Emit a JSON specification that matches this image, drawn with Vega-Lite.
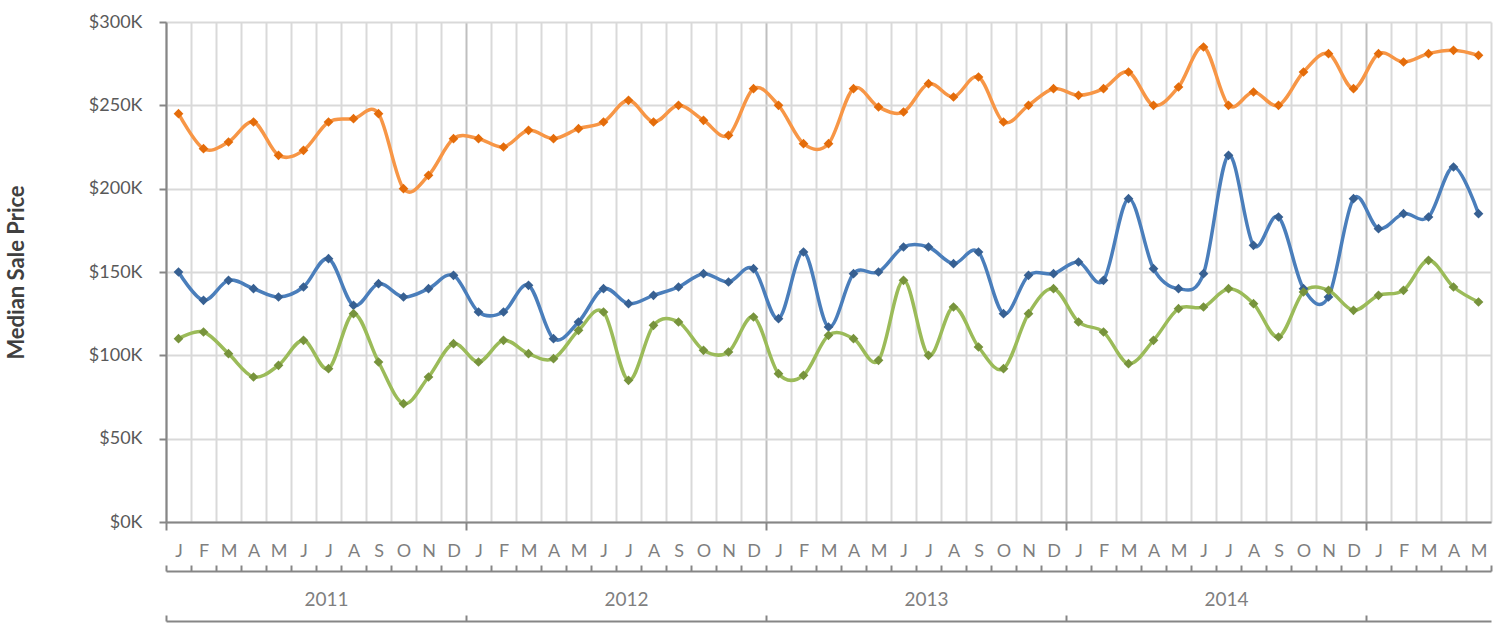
{
  "$schema": "https://vega.github.io/schema/vega-lite/v6.json",
  "width": 1325,
  "height": 500,
  "autosize": {"type": "none"},
  "padding": {"left": 166, "top": 22, "right": 14, "bottom": 101},
  "config": {
    "font": "Lato",
    "view": {"stroke": null},
    "axis": {"labelFont": "Lato", "titleFont": "Lato"}
  },
  "data": {
    "values": [
      {"i": 0, "Series 1": 245, "Series 2": 150, "Series 3": 110},
      {"i": 1, "Series 1": 224, "Series 2": 133, "Series 3": 114},
      {"i": 2, "Series 1": 228, "Series 2": 145, "Series 3": 101},
      {"i": 3, "Series 1": 240, "Series 2": 140, "Series 3": 87},
      {"i": 4, "Series 1": 220, "Series 2": 135, "Series 3": 94},
      {"i": 5, "Series 1": 223, "Series 2": 141, "Series 3": 109},
      {"i": 6, "Series 1": 240, "Series 2": 158, "Series 3": 92},
      {"i": 7, "Series 1": 242, "Series 2": 130, "Series 3": 125},
      {"i": 8, "Series 1": 245, "Series 2": 143, "Series 3": 96},
      {"i": 9, "Series 1": 200, "Series 2": 135, "Series 3": 71},
      {"i": 10, "Series 1": 208, "Series 2": 140, "Series 3": 87},
      {"i": 11, "Series 1": 230, "Series 2": 148, "Series 3": 107},
      {"i": 12, "Series 1": 230, "Series 2": 126, "Series 3": 96},
      {"i": 13, "Series 1": 225, "Series 2": 126, "Series 3": 109},
      {"i": 14, "Series 1": 235, "Series 2": 142, "Series 3": 101},
      {"i": 15, "Series 1": 230, "Series 2": 110, "Series 3": 98},
      {"i": 16, "Series 1": 236, "Series 2": 120, "Series 3": 115},
      {"i": 17, "Series 1": 240, "Series 2": 140, "Series 3": 126},
      {"i": 18, "Series 1": 253, "Series 2": 131, "Series 3": 85},
      {"i": 19, "Series 1": 240, "Series 2": 136, "Series 3": 118},
      {"i": 20, "Series 1": 250, "Series 2": 141, "Series 3": 120},
      {"i": 21, "Series 1": 241, "Series 2": 149, "Series 3": 103},
      {"i": 22, "Series 1": 232, "Series 2": 144, "Series 3": 102},
      {"i": 23, "Series 1": 260, "Series 2": 152, "Series 3": 123},
      {"i": 24, "Series 1": 250, "Series 2": 122, "Series 3": 89},
      {"i": 25, "Series 1": 227, "Series 2": 162, "Series 3": 88},
      {"i": 26, "Series 1": 227, "Series 2": 117, "Series 3": 112},
      {"i": 27, "Series 1": 260, "Series 2": 149, "Series 3": 110},
      {"i": 28, "Series 1": 249, "Series 2": 150, "Series 3": 97},
      {"i": 29, "Series 1": 246, "Series 2": 165, "Series 3": 145},
      {"i": 30, "Series 1": 263, "Series 2": 165, "Series 3": 100},
      {"i": 31, "Series 1": 255, "Series 2": 155, "Series 3": 129},
      {"i": 32, "Series 1": 267, "Series 2": 162, "Series 3": 105},
      {"i": 33, "Series 1": 240, "Series 2": 125, "Series 3": 92},
      {"i": 34, "Series 1": 250, "Series 2": 148, "Series 3": 125},
      {"i": 35, "Series 1": 260, "Series 2": 149, "Series 3": 140},
      {"i": 36, "Series 1": 256, "Series 2": 156, "Series 3": 120},
      {"i": 37, "Series 1": 260, "Series 2": 145, "Series 3": 114},
      {"i": 38, "Series 1": 270, "Series 2": 194, "Series 3": 95},
      {"i": 39, "Series 1": 250, "Series 2": 152, "Series 3": 109},
      {"i": 40, "Series 1": 261, "Series 2": 140, "Series 3": 128},
      {"i": 41, "Series 1": 285, "Series 2": 149, "Series 3": 129},
      {"i": 42, "Series 1": 250, "Series 2": 220, "Series 3": 140},
      {"i": 43, "Series 1": 258, "Series 2": 166, "Series 3": 131},
      {"i": 44, "Series 1": 250, "Series 2": 183, "Series 3": 111},
      {"i": 45, "Series 1": 270, "Series 2": 140, "Series 3": 138},
      {"i": 46, "Series 1": 281, "Series 2": 135, "Series 3": 139},
      {"i": 47, "Series 1": 260, "Series 2": 194, "Series 3": 127},
      {"i": 48, "Series 1": 281, "Series 2": 176, "Series 3": 136},
      {"i": 49, "Series 1": 276, "Series 2": 185, "Series 3": 139},
      {"i": 50, "Series 1": 281, "Series 2": 183, "Series 3": 157},
      {"i": 51, "Series 1": 283, "Series 2": 213, "Series 3": 141},
      {"i": 52, "Series 1": 280, "Series 2": 185, "Series 3": 132}
    ]
  },
  "transform": [{"fold": ["Series 1", "Series 2", "Series 3"], "as": ["series", "price"]}],
  "resolve": {"axis": {"x": "independent"}},
  "layer": [
    {
      "mark": {"type": "line", "interpolate": "cardinal", "strokeWidth": 3.5},
      "encoding": {
        "x": {
          "field": "i", "type": "quantitative",
          "scale": {"domain": [-0.5, 52.5], "nice": false, "zero": false},
          "axis": {
            "orient": "bottom", "title": null, "labels": false,
            "values": [-0.5,0.5,1.5,2.5,3.5,4.5,5.5,6.5,7.5,8.5,9.5,10.5,11.5,12.5,13.5,14.5,15.5,16.5,17.5,18.5,19.5,20.5,21.5,22.5,23.5,24.5,25.5,26.5,27.5,28.5,29.5,30.5,31.5,32.5,33.5,34.5,35.5,36.5,37.5,38.5,39.5,40.5,41.5,42.5,43.5,44.5,45.5,46.5,47.5,48.5,49.5,50.5,51.5,52.5],
            "grid": true, "gridWidth": 2,
            "gridColor": {"condition": {"test": "(datum.value + 0.5) % 12 == 0", "value": "#bfbfbf"}, "value": "#d9d9d9"},
            "ticks": true, "tickSize": 8, "tickWidth": 2, "tickColor": "#868686",
            "tickOpacity": {"condition": {"test": "(datum.value + 0.5) % 12 == 0 && datum.value < 52", "value": 1}, "value": 0},
            "domain": true, "domainColor": "#868686", "domainWidth": 2
          }
        },
        "y": {
          "field": "price", "type": "quantitative",
          "scale": {"domain": [0, 300], "nice": false},
          "axis": {
            "values": [0, 50, 100, 150, 200, 250, 300],
            "labelExpr": "'$' + datum.value + 'K'",
            "grid": true, "gridColor": "#d9d9d9", "gridWidth": 2,
            "domainColor": "#868686", "domainWidth": 2,
            "tickColor": "#868686", "tickSize": 7, "tickWidth": 2,
            "labelPadding": 17, "labelFontSize": 18, "labelColor": "#595959",
            "title": "Median Sale Price", "titleFontSize": 22, "titleFontWeight": "bold",
            "titleColor": "#404040", "titlePadding": 60
          }
        },
        "color": {
          "field": "series", "type": "nominal",
          "scale": {"domain": ["Series 1", "Series 2", "Series 3"], "range": ["#F79646", "#4A7EBB", "#9BBB59"]},
          "legend": null
        }
      }
    },
    {
      "mark": {"type": "point", "shape": "diamond", "filled": true, "size": 95, "opacity": 1},
      "encoding": {
        "x": {
          "field": "i", "type": "quantitative",
          "axis": {
            "orient": "bottom", "title": null,
            "values": [0,1,2,3,4,5,6,7,8,9,10,11,12,13,14,15,16,17,18,19,20,21,22,23,24,25,26,27,28,29,30,31,32,33,34,35,36,37,38,39,40,41,42,43,44,45,46,47,48,49,50,51,52],
            "labelExpr": "['J','F','M','A','M','J','J','A','S','O','N','D'][datum.value % 12]",
            "ticks": false, "domain": false, "grid": false,
            "labelPadding": 20, "labelFontSize": 18, "labelColor": "#7f7f7f",
            "labelOverlap": false, "labelFlush": false, "labelBound": false
          }
        },
        "y": {"field": "price", "type": "quantitative"},
        "fill": {
          "field": "series", "type": "nominal",
          "scale": {"domain": ["Series 1", "Series 2", "Series 3"], "range": ["#E46C0A", "#376092", "#77933C"]},
          "legend": null
        }
      }
    },
    {
      "mark": {"type": "point", "opacity": 0},
      "encoding": {
        "x": {
          "field": "i", "type": "quantitative",
          "axis": {
            "orient": "bottom", "title": null, "offset": 49, "labels": false, "grid": false,
            "values": [-0.5,0.5,1.5,2.5,3.5,4.5,5.5,6.5,7.5,8.5,9.5,10.5,11.5,12.5,13.5,14.5,15.5,16.5,17.5,18.5,19.5,20.5,21.5,22.5,23.5,24.5,25.5,26.5,27.5,28.5,29.5,30.5,31.5,32.5,33.5,34.5,35.5,36.5,37.5,38.5,39.5,40.5,41.5,42.5,43.5,44.5,45.5,46.5,47.5,48.5,49.5,50.5,51.5,52.5],
            "ticks": true, "tickSize": -6, "tickWidth": 2, "tickColor": "#868686",
            "domain": true, "domainColor": "#868686", "domainWidth": 2
          }
        },
        "y": {"field": "price", "type": "quantitative"}
      }
    },
    {
      "mark": {"type": "point", "opacity": 0},
      "encoding": {
        "x": {
          "field": "i", "type": "quantitative",
          "axis": {
            "orient": "bottom", "title": null, "offset": 49, "grid": false,
            "values": [5.5, 17.5, 29.5, 41.5],
            "labelExpr": "'' + (2011 + floor(datum.value / 12))",
            "ticks": false, "domain": false,
            "labelPadding": 19, "labelFontSize": 19, "labelColor": "#7f7f7f", "labelOffset": 10,
            "labelOverlap": false, "labelFlush": false, "labelBound": false
          }
        },
        "y": {"field": "price", "type": "quantitative"}
      }
    },
    {
      "mark": {"type": "point", "opacity": 0},
      "encoding": {
        "x": {
          "field": "i", "type": "quantitative",
          "axis": {
            "orient": "bottom", "title": null, "offset": 99, "labels": false, "grid": false,
            "values": [-0.5, 11.5, 23.5, 35.5, 47.5],
            "ticks": true, "tickSize": -6, "tickWidth": 2, "tickColor": "#868686",
            "domain": true, "domainColor": "#868686", "domainWidth": 2
          }
        },
        "y": {"field": "price", "type": "quantitative"}
      }
    }
  ]
}
